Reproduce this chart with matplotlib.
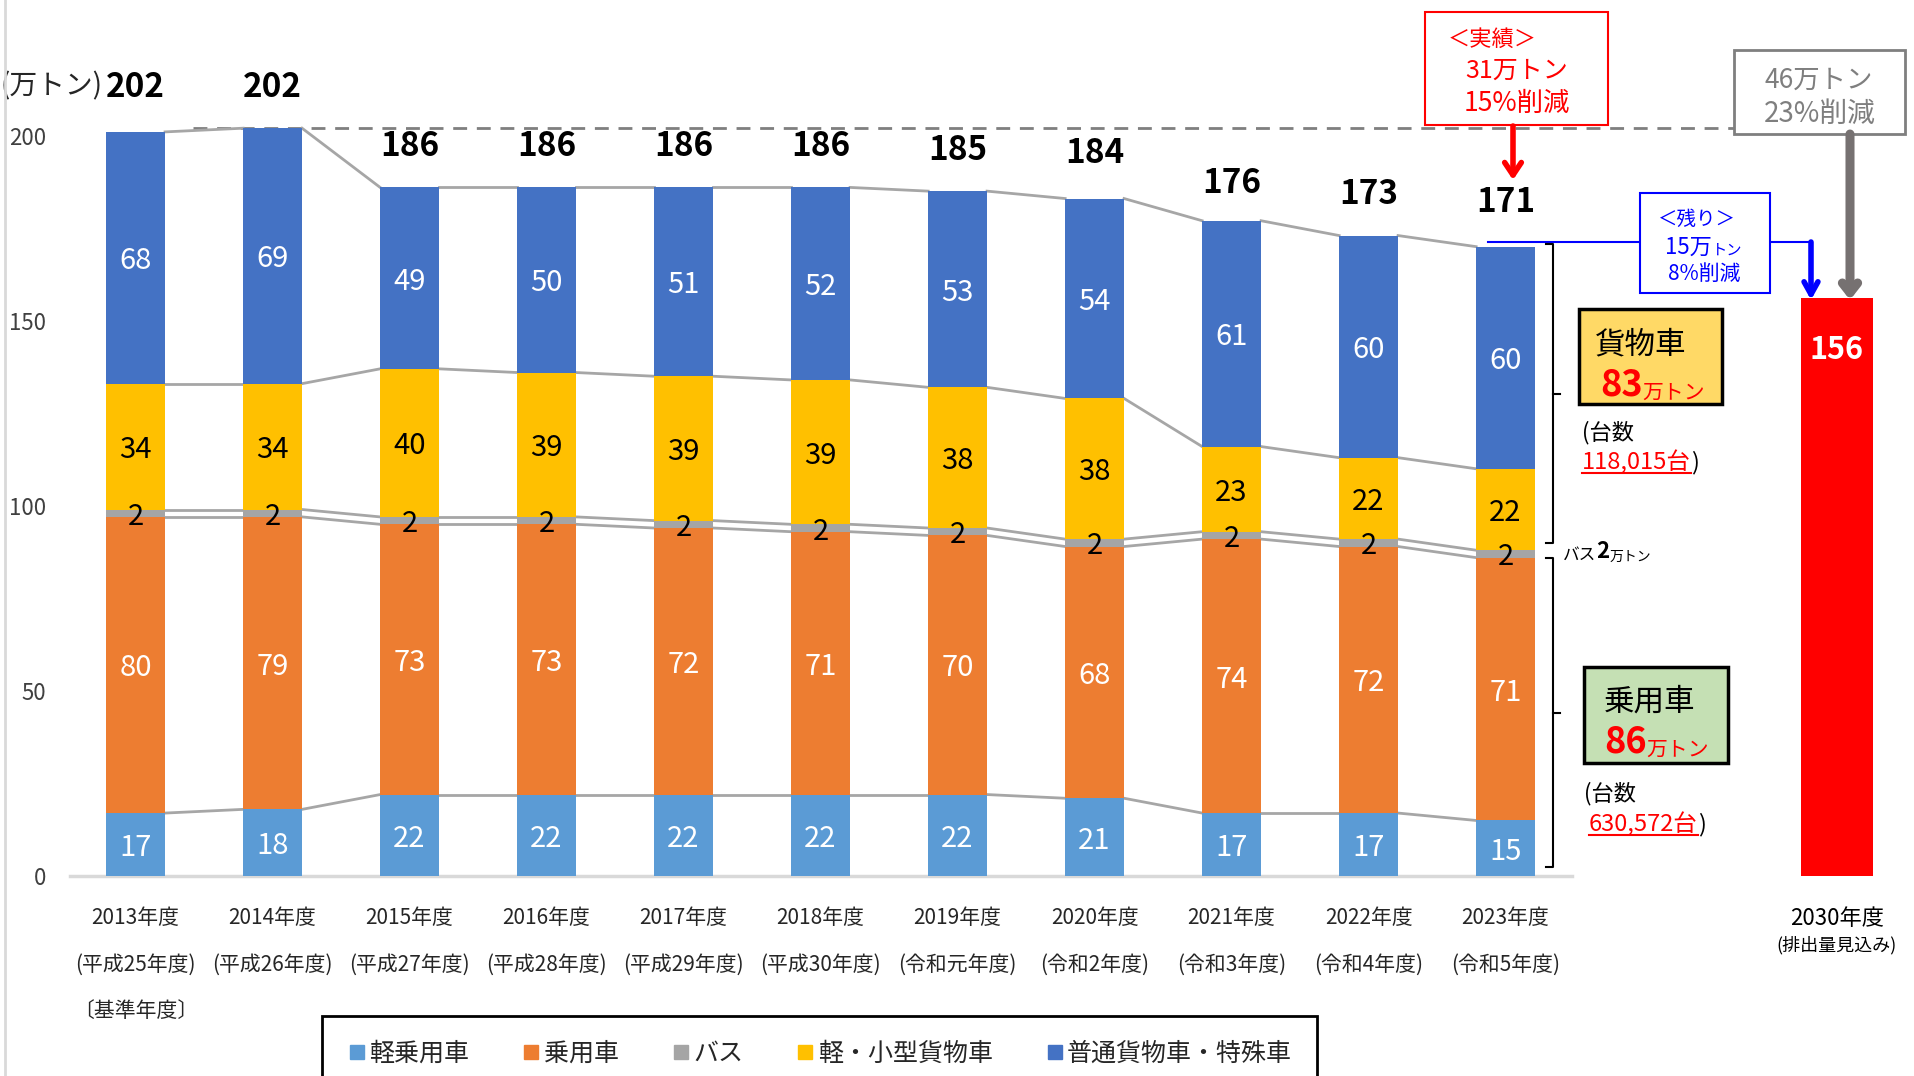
import numpy as np
import matplotlib.pyplot as plt
from matplotlib.patches import Rectangle
from matplotlib.lines import Line2D

plt.rcParams['font.family'] = ['Noto Sans CJK JP', 'DejaVu Sans']

# data (万トン)
years = ['2013年度', '2014年度', '2015年度', '2016年度', '2017年度', '2018年度',
         '2019年度', '2020年度', '2021年度', '2022年度', '2023年度']
eras = ['(平成25年度)', '(平成26年度)', '(平成27年度)', '(平成28年度)', '(平成29年度)',
        '(平成30年度)', '(令和元年度)', '(令和2年度)', '(令和3年度)', '(令和4年度)', '(令和5年度)']
kei_jyoyo = [17, 18, 22, 22, 22, 22, 22, 21, 17, 17, 15]
jyoyo = [80, 79, 73, 73, 72, 71, 70, 68, 74, 72, 71]
bus = [2, 2, 2, 2, 2, 2, 2, 2, 2, 2, 2]
kei_kamotsu = [34, 34, 40, 39, 39, 39, 38, 38, 23, 22, 22]
futsu_kamotsu = [68, 69, 49, 50, 51, 52, 53, 54, 61, 60, 60]
totals = [202, 202, 186, 186, 186, 186, 185, 184, 176, 173, 171]
series_names = ['軽乗用車', '乗用車', 'バス', '軽・小型貨物車', '普通貨物車・特殊車']
target_2030 = 156
yticks = [0, 50, 100, 150, 200]

colors = ['#5B9BD5', '#ED7D31', '#A5A5A5', '#FFC000', '#4472C4']
label_colors = ['white', 'white', 'black', 'black', 'white']

W, H = 1915, 1076


# pixel -> data helpers (for placing annotations)
def dx(px):
    return (px - 135.6) / 137.0


def dy(py):
    return (876 - py) / 3.702


fig = plt.figure(figsize=(W / 100, H / 100), dpi=100)
ax = fig.add_axes([0, 0, 1, 1])
ax.set_xlim(dx(0), dx(W))
ax.set_ylim(dy(H), dy(0))
ax.axis('off')

x = np.arange(len(years))
w = 0.43
bottom = np.zeros(len(x))
series = [kei_jyoyo, jyoyo, bus, kei_kamotsu, futsu_kamotsu]
for vals, c, lc in zip(series, colors, label_colors):
    vals = np.array(vals)
    ax.bar(x, vals, w, bottom=bottom, color=c, zorder=3)
    top = bottom + vals
    for i in range(len(x) - 1):
        ax.plot([x[i] + w / 2, x[i + 1] - w / 2], [top[i], top[i + 1]],
                color='#A6A6A6', lw=2, zorder=2)
    for xi, b, v in zip(x, bottom, vals):
        ax.text(xi, b + v / 2, str(v), ha='center', va='center_baseline', color=lc,
                fontsize=21, zorder=5)
    bottom = top

# totals
for xi, t in zip(x, totals):
    ax.text(xi, t + 12, str(t), ha='center', va='center_baseline', fontsize=24,
            fontweight='bold', color='black', zorder=5)

# y axis labels
for v in yticks:
    ax.text(dx(46), v, str(v), ha='right', va='center_baseline', fontsize=16, color='#404040')
ax.text(dx(0), dy(83), '(万トン)', ha='left', va='center_baseline', fontsize=20, color='#262626')

# x labels
for xi, yr, era in zip(x, years, eras):
    ax.text(xi, dy(916), yr, ha='center', va='center_baseline', fontsize=15, color='#262626')
    ax.text(xi, dy(962), era, ha='center', va='center_baseline', fontsize=15, color='#262626')
ax.text(x[0], dy(1008), '〔基準年度〕', ha='center', va='center_baseline', fontsize=15, color='#262626')

# axis line and left border
ax.plot([dx(70), dx(1572)], [0, 0], color='#D9D9D9', lw=2.5, zorder=1)
fig.add_artist(Line2D([5 / W, 5 / W], [0, 1], color='#D9D9D9', lw=2))

# base-year dashed line
ax.plot([dx(193), dx(1734)], [totals[0], totals[0]], color='#7F7F7F', lw=2,
        dashes=(5, 3.5), zorder=1)

# 2030 bar
x30 = dx(1837)
ax.bar(x30, target_2030, 0.53, color='#FF0000', zorder=3)
ax.text(x30, target_2030 - 13, str(target_2030), ha='center', va='center_baseline',
        fontsize=22, fontweight='bold', color='white', zorder=5)
ax.text(x30, dy(916), '2030年度', ha='center', va='center_baseline', fontsize=16, color='black')
ax.text(x30, dy(943), '(排出量見込み)', ha='center', va='center_baseline', fontsize=13, color='black')


def box(x0, y0, x1, y1, ec, fc='white', lw=1.5):
    ax.add_patch(Rectangle((dx(x0), dy(y1)), dx(x1) - dx(x0), dy(y0) - dy(y1),
                           facecolor=fc, edgecolor=ec, lw=lw, zorder=6))


def arrow(px, py0, py1, color, lw, hl, hw):
    ax.annotate('', xy=(dx(px), dy(py1)), xytext=(dx(px), dy(py0)),
                arrowprops=dict(arrowstyle='->,head_length=%s,head_width=%s' % (hl, hw),
                                color=color, lw=lw, shrinkA=0, shrinkB=0), zorder=7)


def txt(px, py, s, color, size, ha='center', weight='normal'):
    return ax.text(dx(px), dy(py), s, ha=ha, va='center_baseline', color=color,
                   fontsize=size, fontweight=weight, zorder=8)


# red box: achieved
box(1425, 12, 1608, 125, '#FF0000')
txt(1492, 37, '＜実績＞', '#FF0000', 16)
txt(1517, 68, '31万トン', '#FF0000', 18)
txt(1517, 100, '15%削減', '#FF0000', 19)
arrow(1513, 126, 180, '#FF0000', 4, 0.9, 0.6)

# gray box: target
box(1734, 50, 1905, 134, '#7F7F7F', lw=2)
txt(1819, 77, '46万トン', '#7F7F7F', 19)
txt(1820, 110, '23%削減', '#7F7F7F', 20)
arrow(1850, 134, 300, '#767171', 6.5, 0.7, 0.55)

# blue box: remaining
ax.plot([dx(1488), dx(1811)], [dy(242), dy(242)], color='#0000FF', lw=1.5, zorder=5)
box(1640, 193, 1770, 293, '#0000FF')
txt(1697, 217, '＜残り＞', '#0000FF', 14)
t15 = txt(1665, 245, '15万', '#0000FF', 16, ha='left')
ax.annotate('トン', xy=(1, 0), xycoords=t15, ha='left', va='bottom', color='#0000FF',
            fontsize=11, zorder=8)
txt(1704, 271, '8%削減', '#0000FF', 15)
arrow(1811, 242, 300, '#0000FF', 4, 0.9, 0.5)


# brackets
def bracket(y0, y1, xp=1553):
    xb = dx(xp)
    e = 7 / 137.0
    ax.plot([xb - e, xb, xb, xb - e], [y0, y0, y1, y1], color='black', lw=1.5, zorder=5)
    ym = (y0 + y1) / 2
    ax.plot([xb, xb + e], [ym, ym], color='black', lw=1.5, zorder=5)


bracket(dy(867), dy(558))
bracket(dy(543), dy(244))

# truck box
box(1579, 309, 1722, 404, 'black', fc='#FFD966', lw=2.5)
txt(1595, 341, '貨物車', 'black', 22, ha='left')
t83 = txt(1600, 381, '83', '#FF0000', 26, ha='left', weight='bold')
ax.annotate('万トン', xy=(1, 0), xycoords=t83, ha='left', va='bottom', color='#FF0000',
            fontsize=15, zorder=8)

# passenger box
box(1584, 667, 1728, 763, 'black', fc='#C5E0B4', lw=2.5)
txt(1604, 699, '乗用車', 'black', 22, ha='left')
t86 = txt(1604, 738, '86', '#FF0000', 26, ha='left', weight='bold')
ax.annotate('万トン', xy=(1, 0), xycoords=t86, ha='left', va='bottom', color='#FF0000',
            fontsize=15, zorder=8)

# unit counts
txt(1582, 430, '(台数', 'black', 16, ha='left')
c1 = txt(1582, 460, '118,015台', '#FF0000', 17, ha='left')
ax.annotate(')', xy=(1, 0), xycoords=c1, ha='left', va='bottom', color='black', fontsize=17, zorder=8)
txt(1584, 791, '(台数', 'black', 16, ha='left')
c2 = txt(1589, 822, '630,572台', '#FF0000', 17, ha='left')
ax.annotate(')', xy=(1, 0), xycoords=c2, ha='left', va='bottom', color='black', fontsize=17, zorder=8)

# bus note
tb = txt(1563, 553, 'バス', 'black', 12, ha='left')
tb2 = ax.annotate('2', xy=(1, 0), xycoords=tb, ha='left', va='bottom', color='black',
                  fontsize=16, fontweight='bold', zorder=8)
ax.annotate('万トン', xy=(1, 0), xycoords=tb2, ha='left', va='bottom', color='black',
            fontsize=10, zorder=8)

# underline counts
fig.canvas.draw()
inv = ax.transData.inverted()
for t in (c1, c2):
    bb = t.get_window_extent()
    (ux0, uy), (ux1, _) = inv.transform([(bb.x0, bb.y0 + 2), (bb.x1, bb.y0)])
    ax.plot([ux0, ux1], [uy, uy], color='#FF0000', lw=1.5, zorder=8)

# legend
handles = [Line2D([], [], marker='s', ls='', color=c, markersize=10) for c in colors]
leg = fig.legend(handles, series_names, ncol=5, mode='expand', loc='upper left',
                 bbox_to_anchor=(322 / W, 0, (1317 - 322) / W, 1 - 1016 / H),
                 fontsize=18, frameon=True, fancybox=False, edgecolor='black',
                 framealpha=1, borderpad=1.0, borderaxespad=0, handletextpad=0.1,
                 handlelength=0.8)
leg.get_frame().set_linewidth(2)
for t in leg.get_texts():
    t.set_color('#262626')

fig.savefig('out.png', dpi=100)
